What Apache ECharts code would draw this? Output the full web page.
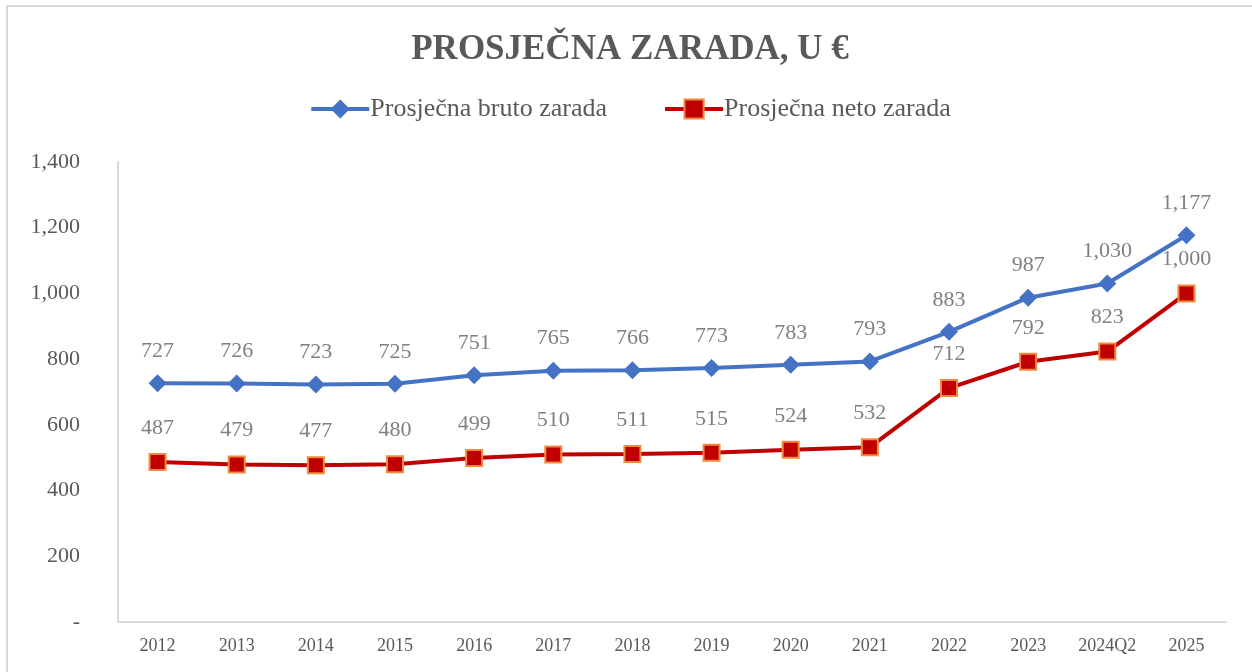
<!DOCTYPE html>
<html>
<head>
<meta charset="utf-8">
<script src="https://cdn.jsdelivr.net/npm/echarts@6/dist/echarts.min.js"></script>
<style>
  html, body { margin: 0; padding: 0; background: #fff; }
  #main {
    position: absolute;
    left: 6px;
    top: 5px;
    width: 1246px;
    height: 667px;
    border-top: 2px solid #d9d9d9;
    border-left: 2px solid #d9d9d9;
    box-sizing: border-box;
  }
</style>
</head>
<body>
<div id="main"></div>
<script>
var years = ['2012', '2013', '2014', '2015', '2016', '2017', '2018', '2019', '2020', '2021', '2022', '2023', '2024Q2', '2025']
var bruto = [727, 726, 723, 725, 751, 765, 766, 773, 783, 793, 883, 987, 1030, 1177]
var neto = [487, 479, 477, 480, 499, 510, 511, 515, 524, 532, 712, 792, 823, 1000]

var serif = '"Liberation Serif", "DejaVu Serif", serif'

function fmt(v) {
  if (v === 0) return '-'
  return v.toLocaleString('en-US')
}

var myChart = echarts.init(document.getElementById('main'))
myChart.setOption({
  animation: false,
  title: {
    text: 'PROSJEČNA ZARADA, U €',
    left: 'center',
    top: 20,
    textStyle: {
      fontFamily: serif,
      fontWeight: 'bold',
      fontSize: 35,
      color: '#595959'
    }
  },
  // 图例
  legend: {
    top: 84,
    left: 'center',
    itemGap: 56,
    itemWidth: 58,
    itemHeight: 24,
    lineStyle: { width: 4 },
    textStyle: { fontFamily: serif, fontSize: 26, color: '#595959', padding: [0, 0, 0, -4] },
    data: ['Prosječna bruto zarada', 'Prosječna neto zarada']
  },
  grid: { left: 110, right: 26, top: 155, bottom: 50 },
  xAxis: {
    type: 'category',
    data: years,
    axisLine: { lineStyle: { color: '#d9d9d9', width: 2 } },
    axisTick: { show: false },
    axisLabel: { interval: 0, fontFamily: serif, fontSize: 18, color: '#595959', margin: 15 }
  },
  yAxis: {
    type: 'value',
    min: 0,
    max: 1400,
    interval: 200,
    splitLine: { show: false },
    axisLine: { show: true, lineStyle: { color: '#d9d9d9', width: 2 } },
    axisTick: { show: false },
    axisLabel: { fontFamily: serif, fontSize: 22, color: '#595959', margin: 38, formatter: fmt }
  },
  series: [
    {
      name: 'Prosječna bruto zarada',
      type: 'line',
      data: bruto,
      symbol: 'diamond',
      symbolSize: 18,
      lineStyle: { color: '#4472C4', width: 4 },
      itemStyle: { color: '#4472C4' },
      label: {
        show: true,
        position: 'top',
        distance: 12,
        fontFamily: serif,
        fontSize: 22,
        color: '#808080',
        formatter: function (p) { return fmt(p.value) }
      }
    },
    {
      name: 'Prosječna neto zarada',
      type: 'line',
      data: neto,
      symbol: 'rect',
      symbolSize: 16,
      lineStyle: { color: '#C00000', width: 4 },
      itemStyle: { color: '#C00000', borderColor: '#F08A3C', borderWidth: 2 },
      label: {
        show: true,
        position: 'top',
        distance: 14,
        fontFamily: serif,
        fontSize: 22,
        color: '#808080',
        formatter: function (p) { return fmt(p.value) }
      }
    }
  ]
})
</script>
</body>
</html>
